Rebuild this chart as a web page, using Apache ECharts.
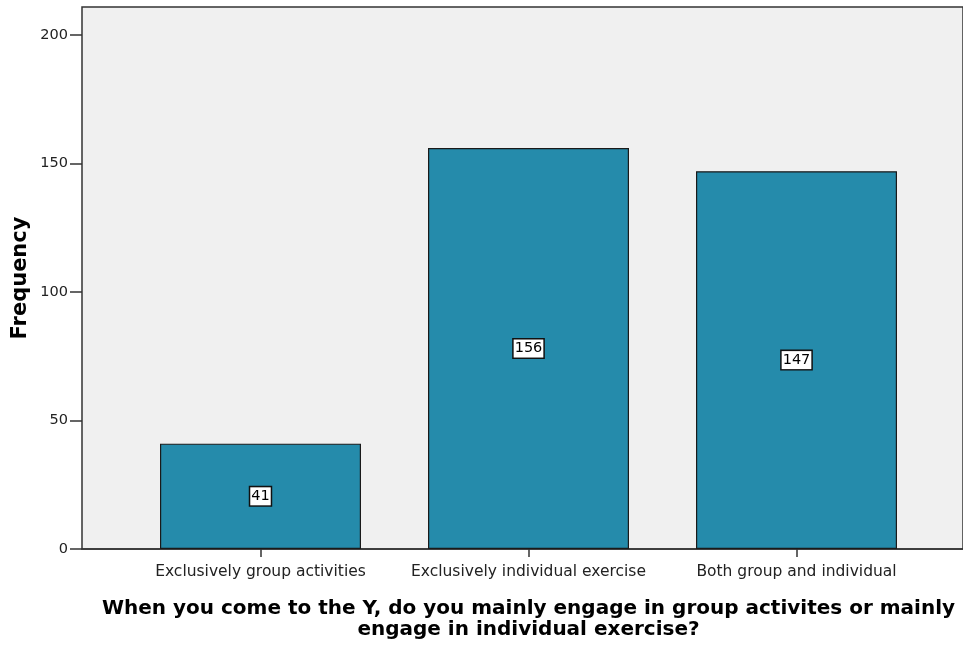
<!DOCTYPE html>
<html><head><meta charset="utf-8">
<script src="https://cdn.jsdelivr.net/npm/echarts@6/dist/echarts.min.js"></script>
<style>html,body{margin:0;padding:0;background:#fff}#c{width:963px;height:649px}</style>
</head><body><div id="c"></div>
<script>
const categories = ["Exclusively group activities", "Exclusively individual exercise", "Both group and individual"];
const frequencies = [41, 156, 147];
const yTicks = [0, 50, 100, 150, 200];
const yTitle = "Frequency";
const xTitle = "When you come to the Y, do you mainly engage in group activites or mainly\nengage in individual exercise?";

const chart = echarts.init(document.getElementById('c'));
const font = "'DejaVu Sans', Verdana, sans-serif";
chart.setOption({
  animation: false,
  grid: [
    {left: 82, right: -3, top: 7, bottom: 100, show: true, backgroundColor: '#F0F0F0', borderColor: '#333', borderWidth: 1.5},
    {left: 126.5, right: 32.5, top: 35, bottom: 100},
    {left: 82, right: 0, top: 35, bottom: 100}
  ],
  xAxis: [
    {gridIndex: 0, type: 'value', show: false},
    {gridIndex: 1, type: 'category', data: categories,
      axisLine: {show: false},
      axisTick: {show: true, alignWithLabel: true, length: 8, lineStyle: {color: '#333', width: 1.5}},
      axisLabel: {color: '#222', fontFamily: font, fontSize: 15.5, margin: 15, interval: 0}},
    {gridIndex: 2, type: 'value', axisLine: {show: true, lineStyle: {color: '#333', width: 1.5}}, axisTick: {show: false}, axisLabel: {show: false}, splitLine: {show: false}}
  ],
  yAxis: [
    {gridIndex: 0, type: 'value', show: false},
    {gridIndex: 1, type: 'value', min: yTicks[0], max: yTicks[yTicks.length-1], interval: 50, show: false},
    {gridIndex: 2, type: 'value', min: yTicks[0], max: yTicks[yTicks.length-1], interval: 50,
      axisLine: {show: false},
      axisTick: {show: true, length: 12, lineStyle: {color: '#333', width: 1.5}},
      axisLabel: {color: '#222', fontFamily: font, fontSize: 14.5, margin: 14},
      splitLine: {show: false}}
  ],
  series: [{
    type: 'bar', xAxisIndex: 1, yAxisIndex: 1, data: frequencies, barWidth: 201,
    itemStyle: {color: '#258BAB', borderColor: '#1a1a1a', borderWidth: 1.2},
    label: {show: true, position: 'inside', color: '#000', fontFamily: font, fontSize: 14.5,
      backgroundColor: '#fff', borderColor: '#111', borderWidth: 1.5, padding: [2, 1, 1, 1]}
  }],
  graphic: [
    {type: 'text', x: 21, y: 278, rotation: Math.PI/2, style: {text: yTitle, font: "bold 21px " + font, fill: '#000', textAlign: 'center', textVerticalAlign: 'middle'}},
    {type: 'text', x: 528.5, y: 598.5, style: {text: xTitle, font: "bold 20px " + font, fill: '#000', textAlign: 'center', lineHeight: 21}}
  ]
});
</script></body></html>
